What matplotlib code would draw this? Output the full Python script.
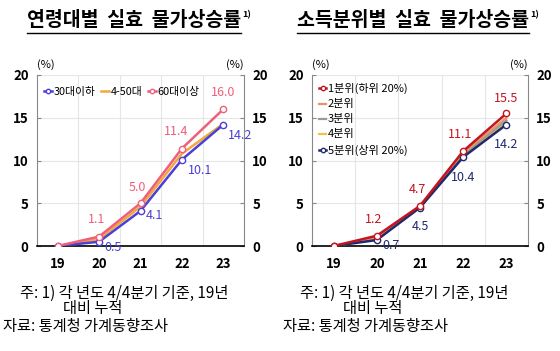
import matplotlib.pyplot as plt
from matplotlib.lines import Line2D

plt.rcParams['font.family'] = ['Noto Sans CJK KR', 'DejaVu Sans']

years = [19, 20, 21, 22, 23]
year_labels = ["19", "20", "21", "22", "23"]

# 연령대별
age_names = ["30대이하", "4-50대", "60대이상"]
age_30 = [0, 0.5, 4.1, 10.1, 14.2]
age_4050 = [0, 0.8, 4.6, 10.8, 14.3]
age_60 = [0, 1.1, 5.0, 11.4, 16.0]

# 소득분위별
inc_names = ["1분위(하위 20%)", "2분위", "3분위", "4분위", "5분위(상위 20%)"]
inc_1 = [0, 1.2, 4.7, 11.1, 15.5]
inc_2 = [0, 1.0, 4.6, 10.9, 15.0]
inc_3 = [0, 0.9, 4.6, 10.7, 14.7]
inc_4 = [0, 0.8, 4.5, 10.6, 14.5]
inc_5 = [0, 0.7, 4.5, 10.4, 14.2]

BLUE = "#4a3fd6"
ORANGE = "#f2a93b"
PINK = "#ef5f7c"
RED = "#c2161f"
ORANGE2 = "#e8946a"
GRAY = "#9a9a9a"
YELLOW = "#f3c04a"
NAVY = "#1e2a6e"

fig = plt.figure(figsize=(5.6, 3.51), dpi=100)


def setup(ax):
    ax.set_xlim(18.5, 23.5)
    ax.set_ylim(0, 20)
    ax.set_xticks(years)
    ax.set_xticklabels(year_labels)
    ax.set_yticks([0, 5, 10, 15, 20])
    ax.set_xticks([19.5, 20.5, 21.5, 22.5], minor=True)
    ax.grid(True, which="minor", axis="x", color="#e6e6e6", lw=0.8)
    ax.grid(True, which="major", axis="y", color="#e6e6e6", lw=0.8)
    ax.tick_params(axis="x", which="both", length=0, pad=8, labelsize=9.5)
    ax.tick_params(axis="y", direction="in", length=3, color="#888888",
                   left=True, right=True, labelleft=True, labelright=True,
                   labelsize=9.5, pad=6)
    for lbl in ax.get_xticklabels() + ax.get_yticklabels():
        lbl.set_fontweight("bold")
    ax.spines["top"].set_visible(False)
    ax.spines["left"].set_color("#888888")
    ax.spines["right"].set_color("#888888")
    ax.spines["bottom"].set_color("black")
    ax.spines["bottom"].set_linewidth(1.2)
    ax.text(0.0, 1.04, "(%)", transform=ax.transAxes, fontsize=8, ha="left")
    ax.text(1.0, 1.04, "(%)", transform=ax.transAxes, fontsize=8, ha="right")


def label(ax, x, y, s, c, dx, dy, ha="center"):
    ax.annotate(s, (x, y), xytext=(dx, dy), textcoords="offset points",
                color=c, fontsize=9, ha=ha, va="center")


# ---- left panel
ax1 = fig.add_axes([37 / 560, 105 / 351, 207 / 560, 171 / 351])
setup(ax1)
mk = dict(marker="o", ms=4.5, mfc="white", mew=1.0)
ax1.plot(years, age_4050, color=ORANGE, lw=1.8, label=age_names[1], zorder=3)
ax1.plot(years, age_30, color=BLUE, lw=1.8, label=age_names[0], zorder=4, **mk)
ax1.plot(years, age_60, color=PINK, lw=1.8, label=age_names[2], zorder=5, **mk)
h, l = ax1.get_legend_handles_labels()
ax1.legend([h[1], h[0], h[2]], [l[1], l[0], l[2]], ncol=3, loc="upper left",
           bbox_to_anchor=(0.0, 0.97), frameon=False, fontsize=7.8,
           handlelength=0.8, handletextpad=0.1, columnspacing=0.5,
           borderaxespad=0.2, markerscale=0.7)

label(ax1, 20, 1.1, "1.1", PINK, -2, 12)
label(ax1, 20, 0.5, "0.5", BLUE, 4, -4, "left")
label(ax1, 21, 5.0, "5.0", PINK, -2, 11)
label(ax1, 21, 4.1, "4.1", BLUE, 4, -3, "left")
label(ax1, 22, 11.4, "11.4", PINK, -4, 12)
label(ax1, 22, 10.1, "10.1", BLUE, 4, -8, "left")
label(ax1, 23, 16.0, "16.0", PINK, 0, 12)
label(ax1, 23, 14.2, "14.2", BLUE, 3, -8, "left")

# ---- right panel
ax2 = fig.add_axes([312 / 560, 105 / 351, 216 / 560, 171 / 351])
setup(ax2)
ax2.plot(years, inc_4, color=YELLOW, lw=1.6, label=inc_names[3], zorder=3)
ax2.plot(years, inc_3, color=GRAY, lw=1.6, label=inc_names[2], zorder=3)
ax2.plot(years, inc_2, color=ORANGE2, lw=1.6, label=inc_names[1], zorder=3)
ax2.plot(years, inc_5, color=NAVY, lw=1.8, label=inc_names[4], zorder=4, **mk)
ax2.plot(years, inc_1, color=RED, lw=1.8, label=inc_names[0], zorder=5, **mk)
h, l = ax2.get_legend_handles_labels()
order = [4, 2, 1, 0, 3]
ax2.legend([h[i] for i in order], [l[i] for i in order], loc="upper left",
           bbox_to_anchor=(0.0, 0.99), frameon=False, fontsize=8,
           handlelength=0.7, handletextpad=0.1, labelspacing=0.45,
           borderaxespad=0.2, markerscale=0.7)

label(ax2, 20, 1.2, "1.2", RED, -2, 12)
label(ax2, 20, 0.7, "0.7", NAVY, 4, -4, "left")
label(ax2, 21, 4.7, "4.7", RED, -2, 12)
label(ax2, 21, 4.5, "4.5", NAVY, 0, -14)
label(ax2, 22, 11.1, "11.1", RED, -2, 12)
label(ax2, 22, 10.4, "10.4", NAVY, 0, -15)
label(ax2, 23, 15.5, "15.5", RED, 0, 11)
label(ax2, 23, 14.2, "14.2", NAVY, 0, -14)

# ---- titles (underlined, with superscript note mark)
renderer = fig.canvas.get_renderer()
for x0, title in [(27, "연령대별  실효  물가상승률"),
                  (297, "소득분위별  실효  물가상승률")]:
    t = fig.text(x0 / 560, 1 - 20 / 351, title, fontsize=14,
                 fontweight="bold", ha="left", va="center")
    bb = t.get_window_extent(renderer)
    fig.text((bb.x1 + 1) / 560, 1 - 15 / 351, "1)", fontsize=6.5,
             fontweight="bold", ha="left", va="center")
    fig.add_artist(Line2D([x0 / 560, bb.x1 / 560],
                          [1 - 33 / 351, 1 - 33 / 351],
                          color="black", lw=1.0))

# ---- footnotes
for x in (20, 300):
    fig.text(x / 560, 1 - 293 / 351, "주: 1) 각 년도 4/4분기 기준, 19년",
             fontsize=11, ha="left", va="center")
    fig.text((x + 43) / 560, 1 - 309 / 351, "대비 누적",
             fontsize=11, ha="left", va="center")
    fig.text((x - 17) / 560, 1 - 326 / 351, "자료: 통계청 가계동향조사",
             fontsize=11, ha="left", va="center")

fig.savefig("out.png", dpi=100)
